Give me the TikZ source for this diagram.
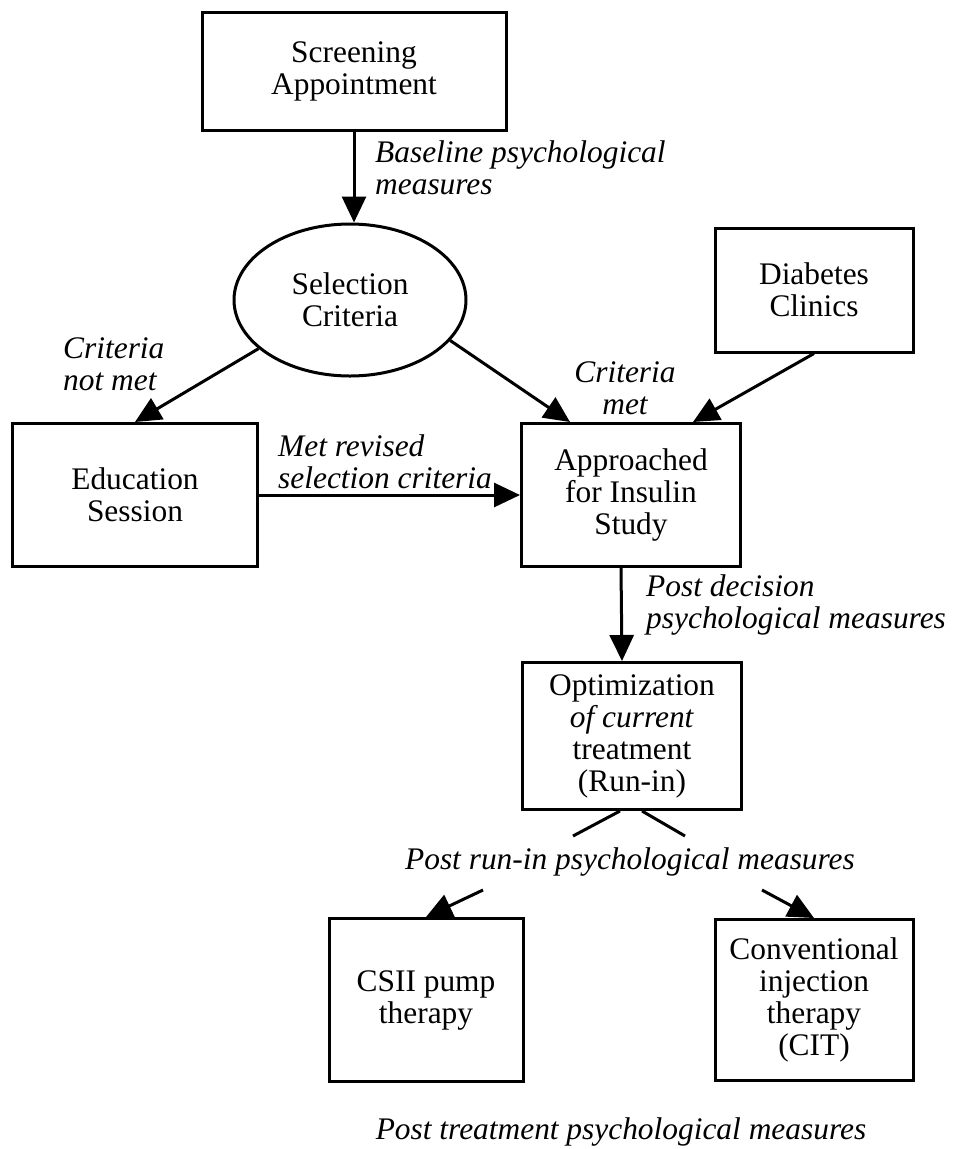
\documentclass[tikz,border=0pt]{standalone}
\usepackage{fontspec}
\setmainfont{Liberation Serif}
\usepackage{tikz}
\usetikzlibrary{shapes.geometric, arrows.meta}

\begin{document}
\begin{tikzpicture}[x=1pt, y=-1pt]
    % Define styles for nodes and edges
    \tikzset{
        boxnode/.style={rectangle, draw=black, line width=3pt, align=center, inner sep=0pt, font=\fontsize{31.4}{32}\selectfont},
        ovalnode/.style={ellipse, draw=black, line width=3pt, align=center, inner sep=0pt, font=\fontsize{31.4}{32}\selectfont},
        notetext/.style={inner sep=0pt, font=\fontsize{31.4}{32}\selectfont\itshape},
        flowline/.style={draw=black, line width=3pt},
        flowarrow/.style={flowline, -{Triangle[length=26pt, width=24pt]}}
    }
    \useasboundingbox (0,0) rectangle (954,1149);

    % ==========================================
    % UPPER PART
    % ==========================================
    % 1. Boxes and the oval
    \node[boxnode, minimum width=304pt, minimum height=118pt] (screen) at (354,71) {Screening\\Appointment};
    \node[ovalnode, minimum width=232pt, minimum height=152pt] (select) at (350,300) {Selection\\Criteria};
    \node[boxnode, minimum width=198pt, minimum height=124pt] (diab) at (814,290) {Diabetes\\Clinics};
    \node[boxnode, minimum width=245pt, minimum height=143pt] (educ) at (135,495) {Education\\Session};
    \node[boxnode, minimum width=219pt, minimum height=143pt] (appr) at (631,495) {Approached\\for Insulin\\Study};

    % 2. Italic notes beside the arrows
    \node[notetext, anchor=west, align=left] (baselinelbl) at (375,168) {Baseline psychological\\measures};
    \node[notetext, anchor=west, align=left] (notmetlbl) at (63,364) {Criteria\\not met};
    \node[notetext, align=center] (metlbl) at (625,388) {Criteria\\met};
    \node[notetext, anchor=west, align=left] (revisedlbl) at (278,462) {Met revised\\selection criteria};

    % 3. Arrows
    \draw[flowarrow] (screen.south) -- (screen.south |- select.north);
    \draw[flowarrow] (select.208) -- (educ.north);
    \draw[flowarrow] (select.338) -- ([xshift=-61pt]appr.north);
    \draw[flowarrow] (diab.south) -- ([xshift=62pt]appr.north);
    \draw[flowarrow] (educ.east) -- (appr.west);

    % ==========================================
    % LOWER PART
    % ==========================================
    % 1. Boxes
    \node[boxnode, minimum width=219pt, minimum height=147pt] (optim) at (632,736) {Optimization\\\textit{of current}\\treatment\\(Run-in)};
    \node[boxnode, minimum width=194pt, minimum height=163pt] (csii) at (426,1000) {CSII pump\\therapy};
    \node[boxnode, minimum width=198pt, minimum height=161pt] (cit) at (814,1000) {Conventional\\injection\\therapy\\(CIT)};

    % 2. Italic notes
    \node[notetext, anchor=west, align=left] (decisionlbl) at (646,605) {Post decision\\psychological measures};
    \node[notetext] (runinlbl) at (630,862) {Post run-in psychological measures};
    \node[notetext] (treatlbl) at (621,1132) {Post treatment psychological measures};

    % 3. Arrows, the run-in ones broken by their note
    \draw[flowarrow] ([xshift=-10pt]appr.south) -- ([xshift=-10pt]optim.north);
    \coordinate (stubL) at (573,836);
    \coordinate (stubR) at (685,836);
    \coordinate (startL) at (483,890);
    \coordinate (startR) at (762,890);
    \draw[flowline] ([xshift=-12pt]optim.south) -- (stubL);
    \draw[flowline] ([xshift=10pt]optim.south) -- (stubR);
    \draw[flowarrow] (startL) -- (csii.north);
    \draw[flowarrow] (startR) -- (cit.north);

\end{tikzpicture}
\end{document}
